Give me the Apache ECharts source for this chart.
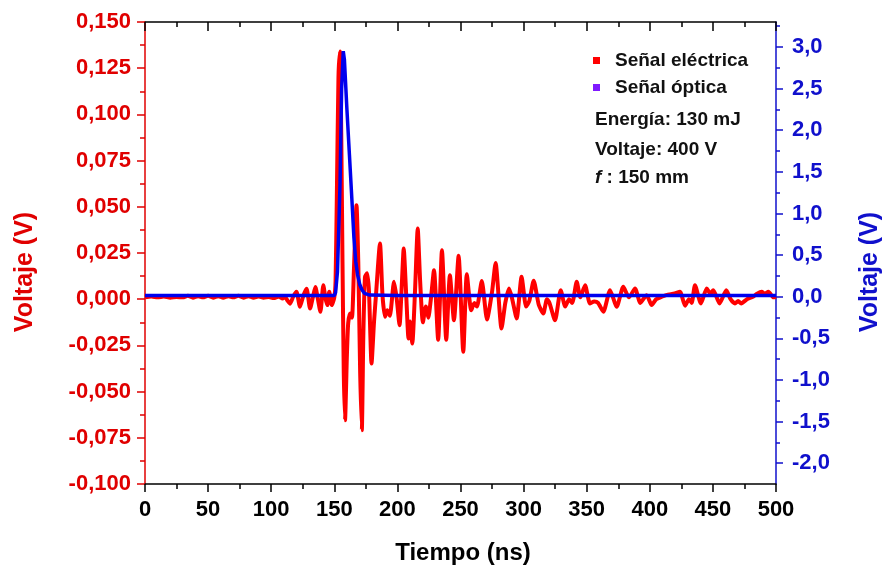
<!DOCTYPE html>
<html>
<head>
<meta charset="utf-8">
<script src="https://cdn.jsdelivr.net/npm/echarts@6/dist/echarts.min.js"></script>
<style>
  html, body { margin: 0; padding: 0; background: #fff; }
  #chart { width: 883px; height: 573px; }
</style>
</head>
<body>
<div id="chart"></div>
<script>
// ---- Data ----
const redTime = [0,5,10,15,20,25,30,34,38,42,46,50,54,58,62,66,70,74,78,82,86,90,94,98,102,106,109,111,113,115,117.5,120,122.8,125.5,128,130.8,133,135,137,139,141.3,143,144.5,146,148,150,151,152,153.3,154.5,155.5,156.5,157.5,158.5,160,161,162.5,164,165.5,167.6,169,170.5,171.8,173,174.3,176,177.5,179.5,181.5,183,186.2,188.2,190.2,192,194,197.3,199.5,201.7,203.5,205,207,208.8,210,211.8,214,216.1,218,220.2,222.5,224.5,226.5,229,232.3,235.3,238.7,241.6,244.8,248.5,252.2,255,258.5,261,263,266.9,271,275,277.8,282.5,285.5,288.5,291,294.5,298.4,302,304.5,308,312,315.6,318.5,320.5,324.9,329.4,333,336,338.5,342.1,345,348.7,352.6,356,359,363.2,368.5,373.8,379,383.5,388.3,392.5,397.5,401.5,405,408,413,419.7,423.9,427.9,431,433.2,435.8,440.5,445.1,448,450.3,455.3,460.6,464,467.5,470,472.4,477,481.7,485,488.7,491,494,498,500];
const redVolt = [0.0010,0.0014,0.0010,0.0014,0.0008,0.0012,0.0010,0.0018,0.0008,0.0016,0.0010,0.0018,0.0008,0.0016,0.0008,0.0016,0.0010,0.0018,0.0008,0.0016,0.0008,0.0014,0.0008,0.0012,0.0006,0.0014,0.0004,0.0012,-0.0008,-0.0024,0.0015,0.0040,-0.0041,0.0020,0.0057,-0.0050,0.0010,0.0066,0.0000,-0.0068,0.0075,0.0005,-0.0032,0.0040,-0.0032,0.0010,0.010,0.055,0.120,0.134,0.090,0.020,-0.040,-0.0655,-0.030,-0.013,-0.0077,-0.010,0.015,0.0509,0.020,-0.040,-0.0709,-0.020,0.012,0.014,0.004,-0.0348,-0.012,0.002,0.0302,0.002,-0.0095,-0.006,-0.009,0.0094,0.000,-0.0141,0.008,0.0274,0.002,-0.0213,-0.012,-0.024,0.005,0.0382,0.010,-0.0125,-0.004,-0.010,0.000,0.0157,-0.022,0.0265,-0.022,0.013,-0.0114,0.0235,-0.0285,0.0135,-0.006,-0.002,-0.004,0.0098,-0.011,0.004,0.0196,-0.0159,-0.002,0.0058,0.000,-0.0104,0.0121,-0.004,-0.001,0.0100,-0.003,-0.0077,0.000,-0.002,-0.0114,0.0049,-0.004,0.000,-0.002,0.0094,0.001,0.0076,-0.0023,-0.0013,-0.002,-0.0068,0.0049,-0.0041,0.0067,0.001,0.0058,-0.002,0.0022,-0.0032,0.000,0.0009,0.0022,0.0031,0.0040,-0.0035,0.000,-0.002,0.0076,-0.0023,0.0058,0.003,0.0049,-0.0023,0.0049,0.000,-0.0023,-0.001,-0.0023,0.000,0.0013,0.003,0.0040,0.003,0.0040,0.0010,0.0013];

const blueTime = [0,50,100,150,151,152.5,153.7,154.6,155.8,157.1,158,160,162,164,165.5,167,168.5,170.3,172,174,178,200,250,300,350,400,450,500];
const blueVolt = [0.015,0.015,0.015,0.015,0.05,0.3,0.9,1.4,2.5,2.95,2.85,2.25,1.7,1.15,0.72,0.42,0.26,0.14,0.08,0.04,0.02,0.015,0.015,0.015,0.015,0.015,0.015,0.015];

const xTicks = [0,50,100,150,200,250,300,350,400,450,500];
const leftTicks = [-0.1,-0.075,-0.05,-0.025,0,0.025,0.05,0.075,0.1,0.125,0.15];
const rightTicks = [-2,-1.5,-1,-0.5,0,0.5,1,1.5,2,2.5,3];
const rightMinorTicks = [-1.75,-1.25,-0.75,-0.25,0.25,0.75,1.25,1.75,2.25,2.75,3.25];

const seriesNames = ['Señal eléctrica','Señal óptica'];
const infoLines = ['Energía: 130 mJ','Voltaje: 400 V','{i|f} : 150 mm'];

// ---- Chart ----
const FONT = "'Liberation Sans', Arial, sans-serif";
const RED = '#e00000', BLUE = '#1010cc';
const redData = redTime.map((t,i)=>[t, redVolt[i]]);
const blueData = blueTime.map((t,i)=>[t, blueVolt[i]]);
const comma = (d)=> (v)=> v.toFixed(d).replace('.', ',');

const chart = echarts.init(document.getElementById('chart'), null, {renderer:'canvas'});
chart.setOption({
  animation: false,
  backgroundColor: '#fff',
  grid: { left: 145, right: 107, top: 22, bottom: 89, containLabel: false, outerBoundsMode: 'none' },
  legend: {
    left: 593, top: 51, padding: 0, orient: 'vertical', icon: 'rect',
    itemWidth: 7, itemHeight: 7, itemGap: 8,
    textStyle: { fontFamily: FONT, fontSize: 19, fontWeight: 'bold', color: '#111', padding: [0,0,0,10] },
    data: [
      { name: seriesNames[0], itemStyle: { color: '#ff0000' } },
      { name: seriesNames[1], itemStyle: { color: '#7f1aff' } }
    ]
  },
  xAxis: [
    {
      type: 'value', min: xTicks[0], max: xTicks[xTicks.length-1], interval: 50, position: 'bottom',
      axisLine: { onZero: false, lineStyle: { color: '#000', width: 1.5 } },
      axisTick: { inside: false, length: 8, lineStyle: { color: '#000', width: 1.5 } },
      minorTick: { show: true, splitNumber: 2, length: 5, lineStyle: { color: '#000', width: 1.5 } },
      axisLabel: { margin: 15, fontFamily: FONT, fontSize: 22, fontWeight: 'bold', color: '#000' },
      splitLine: { show: false }
    },
    {
      type: 'value', min: xTicks[0], max: xTicks[xTicks.length-1], interval: 50, position: 'top',
      axisLine: { onZero: false, lineStyle: { color: '#000', width: 1.5 } },
      axisTick: { inside: true, length: 9, lineStyle: { color: '#000', width: 1.5 } },
      minorTick: { show: true, splitNumber: 2, length: 5, lineStyle: { color: '#000', width: 1.5 } },
      axisLabel: { show: false },
      splitLine: { show: false }
    }
  ],
  yAxis: [
    {
      type: 'value', min: leftTicks[0], max: leftTicks[leftTicks.length-1], interval: 0.025, position: 'left',
      axisLine: { show: true, onZero: false, lineStyle: { color: RED, width: 1.5 } },
      axisTick: { inside: false, length: 8, lineStyle: { color: RED, width: 1.5 } },
      minorTick: { show: true, splitNumber: 2, length: 5, lineStyle: { color: RED, width: 1.5 } },
      axisLabel: { margin: 14, fontFamily: FONT, fontSize: 22, fontWeight: 'bold', color: RED, formatter: comma(3) },
      splitLine: { show: false }
    },
    {
      type: 'value', min: -2.25, max: 3.3, position: 'right',
      axisLine: { show: true, onZero: false, lineStyle: { color: BLUE, width: 1.5 } },
      axisTick: { inside: false, length: 7, customValues: rightTicks, lineStyle: { color: BLUE, width: 1.5 } },
      axisLabel: { margin: 16, customValues: rightTicks, fontFamily: FONT, fontSize: 22, fontWeight: 'bold', color: BLUE, formatter: comma(1) },
      splitLine: { show: false }
    },
    {
      type: 'value', min: -2.25, max: 3.3, position: 'right',
      axisLine: { show: false, onZero: false },
      axisTick: { inside: false, length: 4, customValues: rightMinorTicks, lineStyle: { color: BLUE, width: 1.5 } },
      axisLabel: { show: false },
      splitLine: { show: false }
    }
  ],
  series: [
    {
      name: seriesNames[0], type: 'line', xAxisIndex: 0, yAxisIndex: 0,
      data: redData, showSymbol: false, smooth: 0.2,
      lineStyle: { color: '#ff0000', width: 4 }, itemStyle: { color: '#ff0000' }
    },
    {
      name: seriesNames[1], type: 'line', xAxisIndex: 0, yAxisIndex: 1,
      data: blueData, showSymbol: false, smooth: false,
      lineStyle: { color: '#0000ee', width: 3.5 }, itemStyle: { color: '#7f1aff' }
    }
  ],
  graphic: [
    { type: 'text', x: 25, y: 272, rotation: Math.PI/2,
      style: { text: 'Voltaje (V)', fill: RED, fontFamily: FONT, fontSize: 25, fontWeight: 'bold', align: 'center', verticalAlign: 'middle' } },
    { type: 'text', x: 870, y: 272, rotation: Math.PI/2,
      style: { text: 'Voltaje (V)', fill: BLUE, fontFamily: FONT, fontSize: 25, fontWeight: 'bold', align: 'center', verticalAlign: 'middle' } },
    { type: 'text', x: 463, y: 553,
      style: { text: 'Tiempo (ns)', fill: '#000', fontFamily: FONT, fontSize: 24, fontWeight: 'bold', align: 'center', verticalAlign: 'middle' } },
    { type: 'text', x: 595, y: 120,
      style: { text: infoLines[0], fill: '#111', fontFamily: FONT, fontSize: 19, fontWeight: 'bold', align: 'left', verticalAlign: 'middle' } },
    { type: 'text', x: 595, y: 150,
      style: { text: infoLines[1], fill: '#111', fontFamily: FONT, fontSize: 19, fontWeight: 'bold', align: 'left', verticalAlign: 'middle' } },
    { type: 'text', x: 595, y: 178,
      style: { text: infoLines[2], fill: '#111', fontFamily: FONT, fontSize: 19, fontWeight: 'bold', align: 'left', verticalAlign: 'middle',
        rich: { i: { fontStyle: 'italic', fontWeight: 'bold', fontFamily: FONT, fontSize: 19, fill: '#111' } } } }
  ]
});
</script>
</body>
</html>
